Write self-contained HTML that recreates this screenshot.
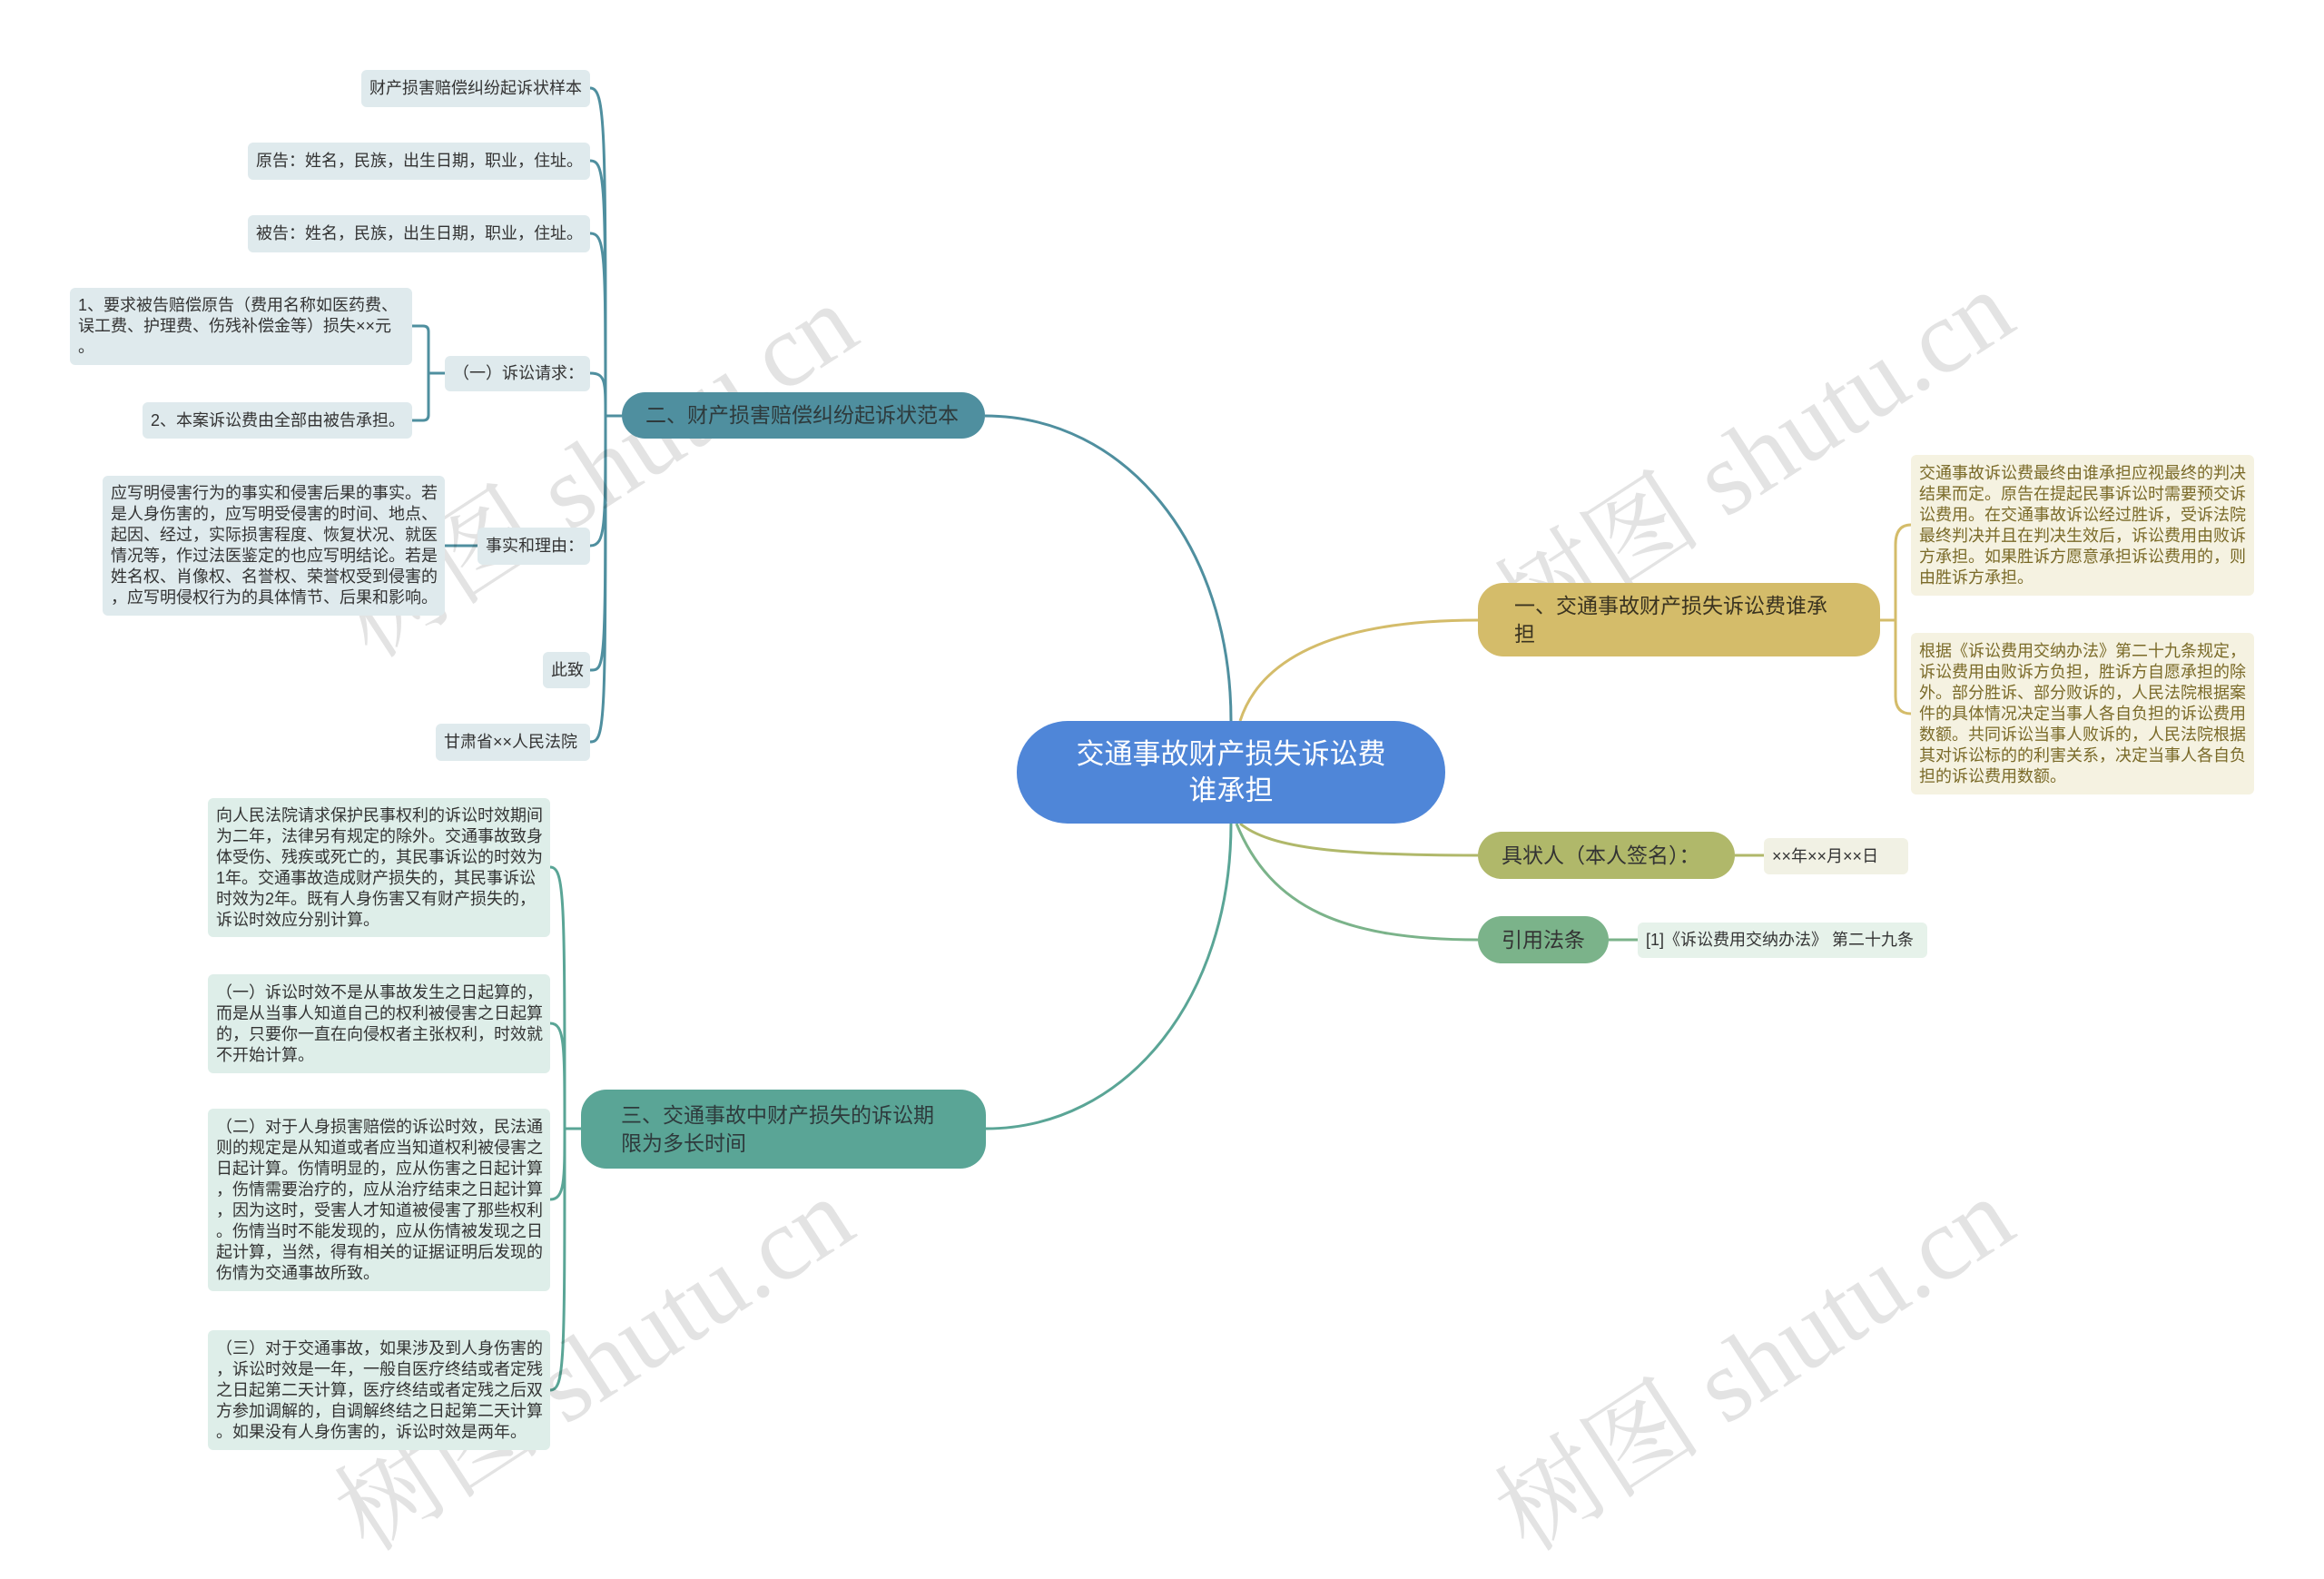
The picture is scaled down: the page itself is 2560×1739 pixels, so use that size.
<!DOCTYPE html>
<html><head><meta charset="utf-8"><style>
html,body{margin:0;padding:0;background:#fff;}
body{width:2560px;height:1675px;position:relative;overflow:hidden;font-family:"Liberation Sans","Noto Sans CJK SC",sans-serif;}
.n{position:absolute;box-sizing:border-box;white-space:nowrap;}
.lf{font-size:18px;line-height:23px;color:#333;border-radius:6px;padding:0 9px;display:flex;flex-direction:column;justify-content:center;}
.b{background:#dfeaed;}
.g{background:#deeee9;}
.y{background:#f5f2e1;color:#7a6a28;}
.m{border-radius:28px;font-size:23px;color:#2e3a3c;display:flex;flex-direction:column;justify-content:center;line-height:31px;}
.wm{position:absolute;width:0;height:0;}
.wm span{position:absolute;left:0;top:0;font-family:"Liberation Serif","Noto Serif CJK SC",serif;font-size:115px;color:rgba(0,0,0,0.11);transform:translate(-50%,-50%) rotate(-33deg);white-space:nowrap;}
</style></head><body>
<svg width="2560" height="1675" style="position:absolute;left:0;top:0" fill="none" stroke-width="3">
<path d="M1356,794 C1356,600 1240,458 1085,458" stroke="#4f8f9f"/>
<path d="M1356,907 C1356,1100 1240,1243 1086,1243" stroke="#5aa596"/>
<path d="M1366,794 C1390,720 1480,683 1628,683" stroke="#d4bc6a"/>
<path d="M1366,907 C1400,935 1480,942 1628,942" stroke="#b0b86a"/>
<path d="M1362,907 C1400,1000 1480,1035 1628,1035" stroke="#7bb38a"/>
<g stroke="#4f8f9f">
<path d="M685,458 L667,458"/>
<path d="M667,458 C667,140 667,97 650,97"/>
<path d="M667,458 C667,200 667,177 650,177"/>
<path d="M667,458 C667,280 667,257 650,257"/>
<path d="M667,458 C667,420 667,411 650,411"/>
<path d="M667,458 C667,580 667,601 650,601"/>
<path d="M667,458 C667,740 667,738 650,738"/>
<path d="M667,458 C667,800 667,817 650,817"/>
<path d="M490,411 L472,411 M472,365 L472,457 M472,365 Q472,359 466,359 L454,359 M472,457 Q472,463 466,463 L454,463"/>
<path d="M526,601 L490,601"/>
</g>
<g stroke="#5aa596">
<path d="M640,1243 L622,1243"/>
<path d="M622,1243 C622,990 622,955 606,955"/>
<path d="M622,1243 C622,1150 622,1127 606,1127"/>
<path d="M622,1243 C622,1300 622,1321 606,1321"/>
<path d="M622,1243 C622,1500 622,1531 606,1531"/>
</g>
<g stroke="#d4bc6a">
<path d="M2071,683 L2088,683 M2088,600 L2088,767 M2088,600 Q2088,578 2105,578 M2088,767 Q2088,786 2105,786"/>
</g>
<path d="M1911,942 L1943,942" stroke="#b0b86a"/>
<path d="M1772,1035 L1804,1035" stroke="#7bb38a"/>
</svg>

<div class="wm" style="left:653px;top:510px;"><span>树图 shutu.cn</span></div>
<div class="wm" style="left:1927px;top:495px;"><span>树图 shutu.cn</span></div>
<div class="wm" style="left:649px;top:1494px;"><span>树图 shutu.cn</span></div>
<div class="wm" style="left:1927px;top:1494px;"><span>树图 shutu.cn</span></div>

<div class="n" style="left:1120px;top:794px;width:472px;height:113px;background:#4f86d8;border-radius:56px;color:#fff;font-size:31px;line-height:40px;text-align:center;display:flex;flex-direction:column;justify-content:center;">交通事故财产损失诉讼费<br>谁承担</div>

<div class="n m" style="left:685px;top:432px;width:400px;height:51px;background:#4f8f9f;padding-left:26px;">二、财产损害赔偿纠纷起诉状范本</div>
<div class="n m" style="left:640px;top:1200px;width:446px;height:87px;background:#5aa596;padding-left:44px;">三、交通事故中财产损失的诉讼期<br>限为多长时间</div>
<div class="n m" style="left:1628px;top:642px;width:443px;height:81px;background:#d4bc6a;padding-left:40px;color:#3a3320;">一、交通事故财产损失诉讼费谁承<br>担</div>
<div class="n m" style="left:1628px;top:916px;width:283px;height:52px;background:#b0b86a;padding-left:26px;color:#333;">具状人（本人签名）：</div>
<div class="n m" style="left:1628px;top:1009px;width:144px;height:52px;background:#7bb38a;padding-left:26px;color:#333;">引用法条</div>

<div class="n lf b" style="left:398px;top:77px;width:252px;height:41px;">财产损害赔偿纠纷起诉状样本</div>
<div class="n lf b" style="left:273px;top:157px;width:377px;height:41px;">原告：姓名，民族，出生日期，职业，住址。</div>
<div class="n lf b" style="left:273px;top:237px;width:377px;height:41px;">被告：姓名，民族，出生日期，职业，住址。</div>
<div class="n lf b" style="left:77px;top:317px;width:377px;height:85px;">1、要求被告赔偿原告（费用名称如医药费、<br>误工费、护理费、伤残补偿金等）损失××元<br>。</div>
<div class="n lf b" style="left:490px;top:392px;width:160px;height:39px;">（一）诉讼请求：</div>
<div class="n lf b" style="left:157px;top:443px;width:297px;height:40px;">2、本案诉讼费由全部由被告承担。</div>
<div class="n lf b" style="left:113px;top:524px;width:377px;height:154px;">应写明侵害行为的事实和侵害后果的事实。若<br>是人身伤害的，应写明受侵害的时间、地点、<br>起因、经过，实际损害程度、恢复状况、就医<br>情况等，作过法医鉴定的也应写明结论。若是<br>姓名权、肖像权、名誉权、荣誉权受到侵害的<br>，应写明侵权行为的具体情节、后果和影响。</div>
<div class="n lf b" style="left:526px;top:581px;width:124px;height:41px;">事实和理由：</div>
<div class="n lf b" style="left:598px;top:718px;width:52px;height:40px;">此致</div>
<div class="n lf b" style="left:480px;top:797px;width:170px;height:41px;">甘肃省××人民法院</div>

<div class="n lf g" style="left:229px;top:879px;width:377px;height:153px;">向人民法院请求保护民事权利的诉讼时效期间<br>为二年，法律另有规定的除外。交通事故致身<br>体受伤、残疾或死亡的，其民事诉讼的时效为<br>1年。交通事故造成财产损失的，其民事诉讼<br>时效为2年。既有人身伤害又有财产损失的，<br>诉讼时效应分别计算。</div>
<div class="n lf g" style="left:229px;top:1073px;width:377px;height:109px;">（一）诉讼时效不是从事故发生之日起算的，<br>而是从当事人知道自己的权利被侵害之日起算<br>的，只要你一直在向侵权者主张权利，时效就<br>不开始计算。</div>
<div class="n lf g" style="left:229px;top:1221px;width:377px;height:201px;">（二）对于人身损害赔偿的诉讼时效，民法通<br>则的规定是从知道或者应当知道权利被侵害之<br>日起计算。伤情明显的，应从伤害之日起计算<br>，伤情需要治疗的，应从治疗结束之日起计算<br>，因为这时，受害人才知道被侵害了那些权利<br>。伤情当时不能发现的，应从伤情被发现之日<br>起计算，当然，得有相关的证据证明后发现的<br>伤情为交通事故所致。</div>
<div class="n lf g" style="left:229px;top:1465px;width:377px;height:132px;">（三）对于交通事故，如果涉及到人身伤害的<br>，诉讼时效是一年，一般自医疗终结或者定残<br>之日起第二天计算，医疗终结或者定残之后双<br>方参加调解的，自调解终结之日起第二天计算<br>。如果没有人身伤害的，诉讼时效是两年。</div>

<div class="n lf y" style="left:2105px;top:501px;width:378px;height:155px;">交通事故诉讼费最终由谁承担应视最终的判决<br>结果而定。原告在提起民事诉讼时需要预交诉<br>讼费用。在交通事故诉讼经过胜诉，受诉法院<br>最终判决并且在判决生效后，诉讼费用由败诉<br>方承担。如果胜诉方愿意承担诉讼费用的，则<br>由胜诉方承担。</div>
<div class="n lf y" style="left:2105px;top:697px;width:378px;height:178px;">根据《诉讼费用交纳办法》第二十九条规定，<br>诉讼费用由败诉方负担，胜诉方自愿承担的除<br>外。部分胜诉、部分败诉的，人民法院根据案<br>件的具体情况决定当事人各自负担的诉讼费用<br>数额。共同诉讼当事人败诉的，人民法院根据<br>其对诉讼标的的利害关系，决定当事人各自负<br>担的诉讼费用数额。</div>
<div class="n lf" style="left:1943px;top:923px;width:159px;height:40px;background:#f1f1e4;">××年××月××日</div>
<div class="n lf" style="left:1804px;top:1016px;width:319px;height:39px;background:#e6f2ea;">[1]《诉讼费用交纳办法》 第二十九条</div>
</body></html>
